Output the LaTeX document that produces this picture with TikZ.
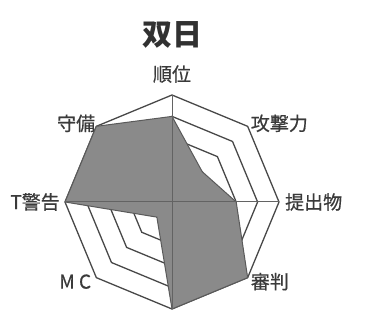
\documentclass[tikz,border=0pt]{standalone}
\usepackage{fontspec}
\usepackage{tikz}
\newfontfamily\jpfont{Noto Sans CJK JP}
\newfontfamily\jplabelfont[FakeBold=0.6]{Noto Sans CJK JP}
\definecolor{gridcolor}{RGB}{72,72,72}
\definecolor{areacolor}{RGB}{138,138,138}
\definecolor{labelcolor}{RGB}{58,58,58}
\usetikzlibrary{positioning}

\begin{document}
\begin{tikzpicture}[
            x=1pt, y=1pt,
                ring/.style = {draw=gridcolor, line width=1.3pt, line join=miter},
                spoke/.style = {draw=gridcolor!85, line width=1pt},
                area/.style = {fill=areacolor, draw=gridcolor!90, line width=1pt, line join=miter},
                axislabel/.style = {inner sep=0pt, text=labelcolor,
                            font=\jplabelfont\fontsize{19}{19}\selectfont},
                charttitle/.style = {inner sep=0pt, text=labelcolor!85!black,
                            font=\jpfont\bfseries\fontsize{30}{30}\selectfont}]
            \useasboundingbox (0,0) rectangle (367,326);
            \coordinate (center) at (172,124);
            \begin{scope}[shift={(center)}]
            % outer corners of the grid
            \coordinate (Juni)     at (90:107);
            \coordinate (Kougeki)  at (45:107);
            \coordinate (Teishutsu) at (0:107);
            \coordinate (Shinpan)  at (-45:107);
            \coordinate (Bottom)   at (-90:107);
            \coordinate (MC)       at (-135:107);
            \coordinate (Keikoku)  at (180:107);
            \coordinate (Shubi)    at (135:107);
            % grid rings
            \draw[ring] (90:21.4) -- (45:21.4) -- (0:21.4) -- (-45:21.4) -- (-90:21.4) -- (-135:21.4) -- (180:21.4) -- (135:21.4) -- cycle;
            \draw[ring] (90:42.8) -- (45:42.8) -- (0:42.8) -- (-45:42.8) -- (-90:42.8) -- (-135:42.8) -- (180:42.8) -- (135:42.8) -- cycle;
            \draw[ring] (90:64.2) -- (45:64.2) -- (0:64.2) -- (-45:64.2) -- (-90:64.2) -- (-135:64.2) -- (180:64.2) -- (135:64.2) -- cycle;
            \draw[ring] (90:85.6) -- (45:85.6) -- (0:85.6) -- (-45:85.6) -- (-90:85.6) -- (-135:85.6) -- (180:85.6) -- (135:85.6) -- cycle;
            \draw[ring] (Juni) -- (Kougeki) -- (Teishutsu) -- (Shinpan) -- (Bottom) -- (MC) -- (Keikoku) -- (Shubi) -- cycle;
            % values
            \draw[area] (90:85.6) -- (45:42.8) -- (0:64.2) -- (-45:107) -- (-90:107) -- (-135:21.4) -- (180:107) -- (135:107) -- cycle;
            % axes
            \draw[spoke] (Juni) -- (Bottom);
            \draw[spoke] (Keikoku) -- (Teishutsu);
            \end{scope}
            \node (JuniLabel) [axislabel, above=12pt of Juni] {順位};
            \node (KougekiLabel) [axislabel, right=3pt of Kougeki, yshift=3pt] {攻撃力};
            \node (TeishutsuLabel) [axislabel, right=6pt of Teishutsu] {提出物};
            \node (ShinpanLabel) [axislabel, right=3pt of Shinpan, yshift=-4pt] {審判};
            \node (MCLabel) [axislabel, left=5pt of MC, yshift=-4pt] {M C};
            \node (KeikokuLabel) [axislabel, left=5pt of Keikoku] {T警告};
            \node (ShubiLabel) [axislabel, left=1pt of Shubi, yshift=3pt] {守備};
            \node (Title) [charttitle, above=17pt of JuniLabel] {双日};
        \end{tikzpicture}
\end{document}
